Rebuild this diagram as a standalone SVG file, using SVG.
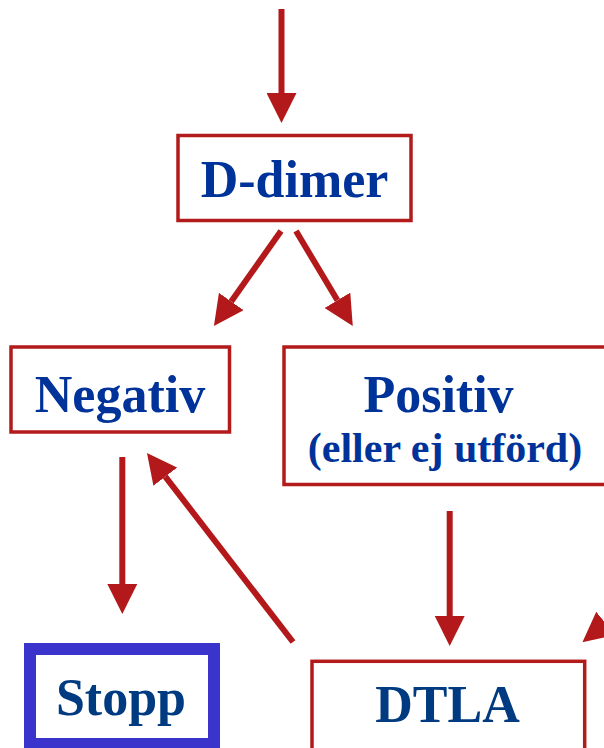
<svg xmlns="http://www.w3.org/2000/svg" width="604" height="748" viewBox="0 0 604 748">
<defs>
<style>
.box{fill:#ffffff;stroke:#B31B1B;stroke-width:3.5}
.stop{fill:#ffffff;stroke:#3A33CC;stroke-width:12}
.lbl{font-family:"Liberation Serif","Times New Roman",serif;font-weight:bold;font-size:52px;fill:#003399;text-anchor:middle}
.sub{font-size:42px}
.dk{fill:#003A80}
.arr{stroke:#B3191A;stroke-width:6;fill:none;marker-end:url(#ah)}
</style>
<marker id="ah" viewBox="0 0 30 30" markerWidth="30" markerHeight="30" markerUnits="userSpaceOnUse" refX="0" refY="15" orient="auto">
<path d="M0,0 L30,15 L0,30 Z" fill="#B3191A"/>
</marker>
</defs>
<rect width="604" height="748" fill="#ffffff"/>
<g id="connectors">
<line class="arr" x1="281.5" y1="9" x2="281.5" y2="93"/>
<line class="arr" x1="281" y1="231" x2="231.2" y2="301.5"/>
<line class="arr" x1="296" y1="231" x2="337.4" y2="300.3"/>
<line class="arr" x1="122.3" y1="457" x2="122.3" y2="584"/>
<line class="arr" x1="449.7" y1="511" x2="449.7" y2="616"/>
<line class="arr" x1="293" y1="642" x2="165.3" y2="476.7"/>
<line class="arr" x1="680" y1="563" x2="605.7" y2="623.4"/>
</g>
<g id="ddimer">
<rect class="box" x="178" y="135.5" width="233" height="85"/>
<text class="lbl" x="294.5" y="197">D-dimer</text>
</g>
<g id="negativ">
<rect class="box" x="11" y="347" width="218.5" height="85"/>
<text class="lbl" x="120" y="412">Negativ</text>
</g>
<g id="positiv">
<rect class="box" x="284" y="347" width="340" height="137.5"/>
<text class="lbl" x="438.5" y="412">Positiv</text>
<text class="lbl sub" x="445" y="462">(eller ej utförd)</text>
</g>
<g id="stopp">
<rect class="stop" x="30" y="649" width="184" height="95"/>
<text class="lbl dk" x="121" y="715">Stopp</text>
</g>
<g id="dtla">
<rect class="box" x="312" y="661.3" width="272.7" height="100"/>
<text class="lbl dk" x="447.5" y="722">DTLA</text>
</g>
</svg>
